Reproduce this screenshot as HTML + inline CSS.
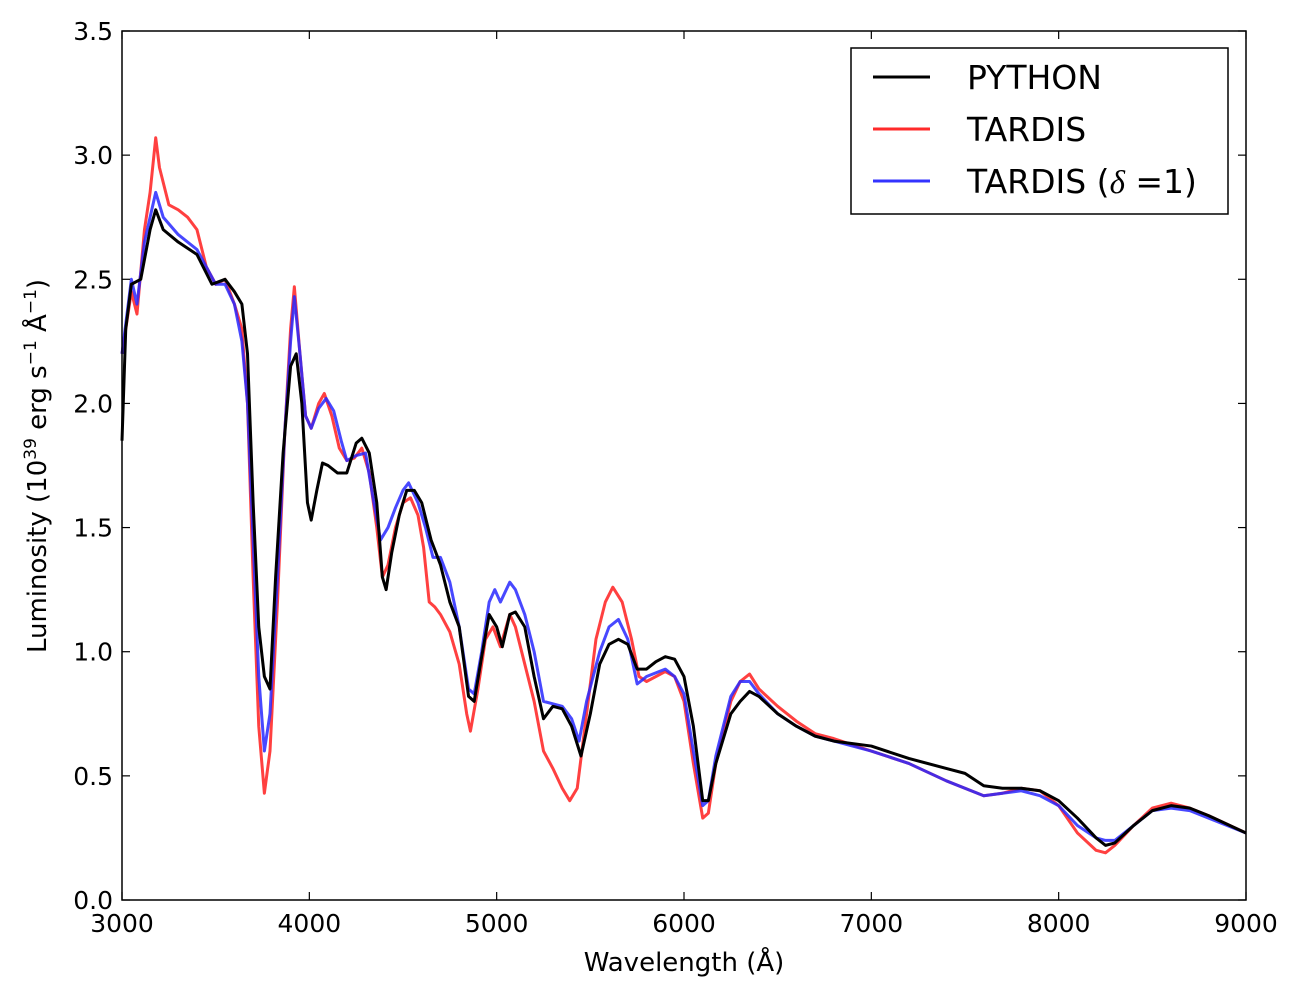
<!DOCTYPE html>
<html><head><meta charset="utf-8"><style>
body{margin:0;background:#fff;}
text{font-family:"DejaVu Sans","Liberation Sans",sans-serif;}
</style></head><body>
<svg id="chart" width="1299" height="989" xmlns="http://www.w3.org/2000/svg">
<g id="lines"></g>
<rect x="122" y="31" width="1124" height="869" fill="none" stroke="#000" stroke-width="1.5"/>
<g id="ticks"></g>
<text x="684" y="971" font-size="26" text-anchor="middle">Wavelength (Å)</text>
<text transform="translate(46,466) rotate(-90)" font-size="26" text-anchor="middle">Luminosity (10<tspan font-size="17" dy="-10">39</tspan><tspan dy="10"> erg s</tspan><tspan font-size="17" dy="-10">−1</tspan><tspan dy="10"> Å</tspan><tspan font-size="17" dy="-10">−1</tspan><tspan dy="10">)</tspan></text>
<g>
<rect x="851" y="48" width="377" height="166" fill="#fff" stroke="#000" stroke-width="1.5"/>
<line x1="873" y1="77" x2="930" y2="77" stroke="#000" stroke-width="3"/>
<text x="967" y="89" font-size="33">PYTHON</text>
<line x1="873" y1="129" x2="930" y2="129" stroke="#ff2a2a" stroke-width="3"/>
<text x="967" y="141" font-size="33">TARDIS</text>
<line x1="873" y1="181" x2="930" y2="181" stroke="#3333ff" stroke-width="3"/>
<text x="967" y="193" font-size="33">TARDIS (<tspan font-family="Liberation Serif" font-style="italic">δ</tspan> =1)</text>
</g>
</svg>
<script>
const xTicks=[3000,4000,5000,6000,7000,8000,9000];
const yTicks=[0.0,0.5,1.0,1.5,2.0,2.5,3.0,3.5];
const pyWave=[3000,3020,3050,3100,3150,3180,3220,3300,3400,3480,3550,3600,3640,3670,3700,3730,3760,3790,3820,3860,3900,3930,3960,3990,4010,4040,4070,4100,4150,4200,4250,4280,4320,4360,4390,4410,4440,4480,4520,4560,4600,4650,4700,4750,4800,4850,4880,4920,4960,5000,5030,5070,5100,5150,5200,5250,5300,5350,5400,5450,5500,5550,5600,5650,5700,5750,5800,5850,5900,5950,6000,6050,6100,6130,6170,6250,6300,6350,6400,6500,6600,6700,6800,7000,7200,7400,7500,7600,7700,7800,7900,8000,8100,8200,8250,8300,8400,8500,8600,8700,8800,9000];
const pyLum=[1.85,2.3,2.48,2.5,2.7,2.78,2.7,2.65,2.6,2.48,2.5,2.45,2.4,2.2,1.6,1.1,0.9,0.85,1.3,1.8,2.15,2.2,2.0,1.6,1.53,1.65,1.76,1.75,1.72,1.72,1.84,1.86,1.8,1.6,1.3,1.25,1.4,1.55,1.65,1.65,1.6,1.45,1.35,1.2,1.1,0.82,0.8,0.98,1.15,1.1,1.02,1.15,1.16,1.1,0.9,0.73,0.78,0.77,0.7,0.58,0.75,0.95,1.03,1.05,1.03,0.93,0.93,0.96,0.98,0.97,0.9,0.7,0.4,0.4,0.55,0.75,0.8,0.84,0.82,0.75,0.7,0.66,0.64,0.62,0.57,0.53,0.51,0.46,0.45,0.45,0.44,0.4,0.33,0.25,0.22,0.23,0.3,0.36,0.38,0.37,0.34,0.27];
const tdWave=[3000,3050,3080,3120,3150,3180,3200,3250,3300,3350,3400,3450,3500,3550,3600,3640,3670,3700,3730,3760,3790,3830,3870,3900,3920,3950,3980,4010,4050,4080,4120,4160,4200,4240,4280,4320,4360,4390,4420,4460,4500,4540,4580,4610,4640,4670,4700,4750,4800,4840,4860,4900,4940,4980,5020,5070,5100,5150,5200,5250,5300,5350,5390,5430,5480,5530,5580,5620,5670,5720,5760,5800,5900,5950,6000,6050,6100,6130,6170,6250,6300,6350,6400,6500,6600,6700,6800,7000,7200,7400,7600,7700,7800,7900,8000,8100,8200,8250,8300,8400,8500,8600,8700,8800,9000];
const tdLum=[2.2,2.45,2.36,2.7,2.85,3.07,2.95,2.8,2.78,2.75,2.7,2.55,2.48,2.5,2.4,2.3,2.0,1.3,0.7,0.43,0.6,1.2,1.9,2.3,2.47,2.2,1.95,1.9,2.0,2.04,1.95,1.82,1.77,1.78,1.82,1.72,1.5,1.3,1.35,1.5,1.6,1.62,1.55,1.42,1.2,1.18,1.15,1.08,0.95,0.75,0.68,0.85,1.05,1.1,1.02,1.15,1.1,0.95,0.8,0.6,0.53,0.45,0.4,0.45,0.75,1.05,1.2,1.26,1.2,1.05,0.9,0.88,0.92,0.9,0.8,0.55,0.33,0.35,0.55,0.8,0.88,0.91,0.85,0.78,0.72,0.67,0.65,0.6,0.55,0.48,0.42,0.43,0.45,0.44,0.38,0.27,0.2,0.19,0.22,0.3,0.37,0.39,0.37,0.34,0.27];
const tdDWave=[3000,3050,3080,3120,3180,3220,3300,3400,3500,3550,3600,3640,3670,3700,3730,3760,3790,3830,3870,3900,3920,3950,3980,4010,4050,4090,4130,4170,4200,4250,4300,4340,4380,4420,4460,4500,4530,4580,4620,4660,4700,4750,4800,4850,4880,4920,4960,4990,5020,5070,5100,5150,5200,5250,5300,5350,5400,5440,5480,5550,5600,5650,5700,5750,5800,5900,5950,6000,6050,6100,6130,6170,6250,6300,6350,6400,6500,6600,6700,6800,7000,7200,7400,7600,7700,7800,7900,8000,8100,8200,8250,8300,8400,8500,8600,8700,8800,9000];
const tdDLum=[2.2,2.5,2.4,2.65,2.85,2.75,2.68,2.62,2.48,2.48,2.4,2.25,2.0,1.45,0.9,0.6,0.75,1.3,1.9,2.25,2.43,2.2,1.95,1.9,1.98,2.02,1.97,1.85,1.77,1.79,1.8,1.62,1.45,1.5,1.58,1.65,1.68,1.6,1.5,1.38,1.38,1.28,1.1,0.85,0.83,1.0,1.2,1.25,1.2,1.28,1.25,1.15,1.0,0.8,0.79,0.78,0.73,0.64,0.8,1.0,1.1,1.13,1.05,0.87,0.9,0.93,0.9,0.83,0.6,0.38,0.4,0.58,0.82,0.88,0.88,0.83,0.75,0.7,0.66,0.64,0.6,0.55,0.48,0.42,0.43,0.44,0.42,0.38,0.3,0.25,0.24,0.24,0.3,0.36,0.37,0.36,0.33,0.27];

const X0=122,X1=1246,Y0=900,Y1=31;
const sx=w=>X0+(w-3000)/6000*(X1-X0);
const sy=v=>Y0-v/3.5*(Y0-Y1);
const NS="http://www.w3.org/2000/svg";
const lines=document.getElementById('lines');
function addLine(wv,lm,color,name){
  let d='';
  for(let i=0;i<wv.length;i++){
    const x=sx(wv[i]),y=sy(lm[i]);
    d+=(i===0?'M':'L')+x+' '+y;
  }
  const p=document.createElementNS(NS,'path');
  p.setAttribute('d',d);p.setAttribute('fill','none');p.setAttribute('stroke',color);
  p.setAttribute('stroke-width','3');p.setAttribute('stroke-linejoin','round');
  
  
  lines.appendChild(p);
}
addLine(tdWave,tdLum,'rgba(255,30,30,0.85)','tardis-line');
addLine(tdDWave,tdDLum,'rgba(40,40,255,0.85)','tardis-delta-line');
addLine(pyWave,pyLum,'#000','python-line');
const tg=document.getElementById('ticks');
function mk(tag,attrs){const e=document.createElementNS(NS,tag);for(const k in attrs)e.setAttribute(k,attrs[k]);tg.appendChild(e);return e;}
xTicks.forEach(t=>{
  const x=sx(t);
  const a=mk('line',{x1:x,x2:x,y1:Y0,y2:Y0-8,stroke:'#000','stroke-width':1.2});
  
  
  const b=mk('line',{x1:x,x2:x,y1:Y1,y2:Y1+8,stroke:'#000','stroke-width':1.2});
  
  
  const tx=mk('text',{x:x,y:932,'font-size':25,'text-anchor':'middle'});
  tx.textContent=t;
  
  
});
yTicks.forEach(t=>{
  const y=sy(t);
  const a=mk('line',{x1:X0,x2:X0+8,y1:y,y2:y,stroke:'#000','stroke-width':1.2});
  
  
  const b=mk('line',{x1:X1,x2:X1-8,y1:y,y2:y,stroke:'#000','stroke-width':1.2});
  
  
  const tx=mk('text',{x:113,y:y+9,'font-size':25,'text-anchor':'end'});
  tx.textContent=t.toFixed(1);
  
  
});
</script>
</body></html>
